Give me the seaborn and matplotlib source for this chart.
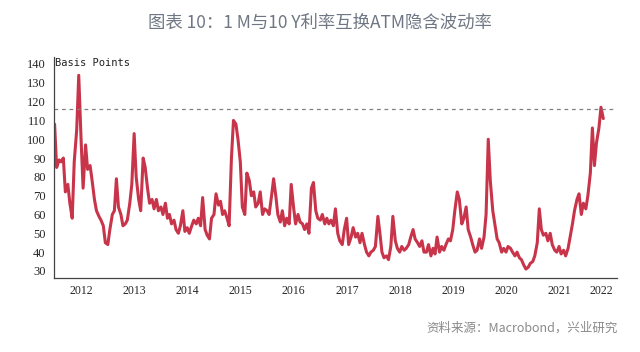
import pandas as pd
import seaborn as sns
import matplotlib.pyplot as plt
import numpy as np

# 半月度读数（Basis Points），按年份排列
v2012 = [108, 85, 89, 88, 90, 72, 76, 66, 58, 88, 105, 134, 100, 74, 97, 84, 86, 78, 68, 62, 59, 57, 54, 45]
v2013 = [44, 52, 60, 62, 79, 64, 60, 54, 55, 57, 66, 76, 103, 80, 68, 62, 90, 85, 74, 66, 68, 63, 68, 62]
v2014 = [64, 60, 66, 58, 60, 55, 57, 52, 50, 54, 62, 51, 53, 50, 54, 57, 55, 58, 54, 69, 52, 49, 47, 58]
v2015 = [60, 71, 65, 67, 60, 62, 58, 54, 90, 110, 108, 100, 88, 64, 60, 82, 78, 70, 72, 64, 66, 72, 60, 63]
v2016 = [62, 60, 70, 79, 70, 60, 56, 62, 54, 58, 55, 76, 64, 55, 60, 56, 55, 52, 55, 50, 74, 77, 62, 58]
v2017 = [57, 60, 55, 58, 55, 57, 54, 63, 50, 46, 44, 52, 58, 44, 48, 53, 48, 50, 45, 50, 44, 40, 38, 40]
v2018 = [41, 43, 59, 50, 40, 37, 38, 36, 43, 59, 46, 42, 40, 43, 41, 42, 44, 48, 52, 47, 45, 43, 46, 40]
v2019 = [40, 44, 38, 42, 39, 48, 40, 43, 41, 44, 47, 46, 52, 62, 72, 68, 55, 58, 64, 52, 48, 44, 40, 41]
v2020 = [47, 42, 48, 60, 100, 78, 62, 55, 47, 45, 40, 42, 40, 43, 42, 40, 38, 40, 37, 36, 33, 31, 32, 34]
v2021 = [35, 38, 45, 63, 52, 49, 50, 46, 50, 44, 41, 40, 43, 39, 41, 38, 42, 48, 55, 62, 68, 71, 60, 66]
v2022 = [63, 70, 82, 106, 86, 98, 106, 117, 111]

values = v2012 + v2013 + v2014 + v2015 + v2016 + v2017 + v2018 + v2019 + v2020 + v2021 + v2022
years = list(range(2012, 2023))
ref_level = 116

df = pd.DataFrame({
    'date': pd.date_range('2012-01-01', periods=len(values), freq='SMS'),
    'vol': values,
})

sns.set_style('white')
plt.rcParams['font.family'] = ['Noto Sans CJK SC', 'DejaVu Sans']

fig = plt.figure(figsize=(6.4, 3.52), dpi=100)
ax = fig.add_axes([0.0844, 0.210, 0.8796, 0.628])

sns.lineplot(data=df, x='date', y='vol', ax=ax, color='#C8354B', linewidth=2.2)
ax.axhline(ref_level, color='#808080', linestyle=(0, (3, 3)), linewidth=0.9)

x_end = pd.Timestamp('2022-08-03')
ax.set_xlim(pd.Timestamp('2011-12-28'), x_end)
ax.set_ylim(26.2, 143.7)

# 年份刻度：主刻度在年初，标签居中
starts = [pd.Timestamp(f'{y}-01-01') for y in years]
ax.set_xticks(starts)
ax.set_xticklabels([])
ends = starts[1:] + [x_end]
mids = [s + (e - s) / 2 for s, e in zip(starts, ends)]
ax.set_xticks(mids, minor=True)
ax.set_xticklabels([str(y) for y in years], minor=True,
                   family='Liberation Serif', fontsize=8.5)
ax.tick_params(axis='x', which='major', direction='out', length=4, width=1.2, color='#222222')
ax.tick_params(axis='x', which='minor', length=0, pad=5)

ax.set_yticks(np.arange(30, 141, 10))
ax.set_yticklabels([str(t) for t in range(30, 141, 10)], family='Liberation Serif', fontsize=9)
ax.tick_params(axis='y', direction='out', length=4, width=0.8, color='#444444', pad=2)

ax.set_xlabel('')
ax.set_ylabel('')
sns.despine(ax=ax)
for s in ['left', 'bottom']:
    ax.spines[s].set_color('#444444')
    ax.spines[s].set_linewidth(0.9)

ax.text(0.002, 0.995, 'Basis Points', transform=ax.transAxes, ha='left', va='top',
        family='DejaVu Sans Mono', fontsize=7.5, color='#222222')

fig.text(0.5, 0.935, '图表 10：1 M与10 Y利率互换ATM隐含波动率', ha='center', va='center',
         fontsize=12.5, color='#6E7783')
fig.text(0.965, 0.068, '资料来源：Macrobond，兴业研究', ha='right', va='center',
         fontsize=9, color='#8A8A8A')

fig.savefig('out.png', dpi=100)
